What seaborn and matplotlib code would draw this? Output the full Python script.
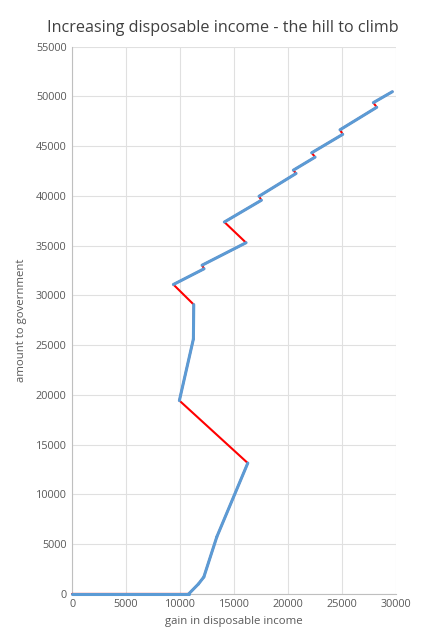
import matplotlib
matplotlib.use("Agg")
import matplotlib.pyplot as plt
import seaborn as sns
import pandas as pd
import numpy as np

# data
gain_income = [0, 10800, 11700, 12200, 13400, 16270, 9935, 11234, 11265, 9380,
               12220, 12037, 16110, 14100, 17530, 17310, 20740, 20490, 22500,
               22190, 25060, 24810, 28210, 27900, 29660]
amount_gov = [0, 0, 1000, 1700, 5730, 13150, 19435, 25625, 29080, 31100,
              32680, 33040, 35300, 37380, 39570, 39970, 42260, 42590, 43900,
              44340, 46190, 46650, 48910, 49380, 50480]

title = "Increasing disposable income - the hill to climb"
x_label = "gain in disposable income"
y_label = "amount to government"
x_ticks = [0, 5000, 10000, 15000, 20000, 25000, 30000]
y_ticks = [0, 5000, 10000, 15000, 20000, 25000, 30000, 35000, 40000, 45000, 50000, 55000]

sns.set_theme(style="white")
plt.rcParams['font.family'] = ['Open Sans', 'DejaVu Sans']

df = pd.DataFrame({"x": gain_income, "y": amount_gov})

# blue segments: runs where x does not decrease
rows = []
for i in range(len(gain_income) - 1):
    if gain_income[i + 1] >= gain_income[i]:
        rows.append({"x": gain_income[i], "y": amount_gov[i], "seg": i})
        rows.append({"x": gain_income[i + 1], "y": amount_gov[i + 1], "seg": i})
blue = pd.DataFrame(rows)

fig = plt.figure(figsize=(4.45, 6.4), dpi=100)
ax = fig.add_axes([0.162, 0.072, 0.728, 0.855])

sns.lineplot(data=df, x="x", y="y", sort=False, estimator=None,
             color="#FF0000", linewidth=1.5, ax=ax, clip_on=False, zorder=3)
sns.lineplot(data=blue, x="x", y="y", units="seg", sort=False, estimator=None,
             color="#5B9BD5", linewidth=2.2, ax=ax, clip_on=False, zorder=4,
             solid_capstyle="round", solid_joinstyle="round")

ax.set_xlim(0, 30000)
ax.set_ylim(0, 55000)
ax.set_xticks(x_ticks)
ax.set_yticks(y_ticks)
ax.grid(True, color="#E0E0E0", linewidth=0.8)
ax.set_axisbelow(True)
for s in ["top", "right"]:
    ax.spines[s].set_visible(False)
for s in ["left", "bottom"]:
    ax.spines[s].set_color("#BFBFBF")
    ax.spines[s].set_linewidth(0.8)
ax.tick_params(axis="both", labelsize=7.8, colors="#595959", length=0, pad=4)
ax.set_xlabel(x_label, fontsize=8.2, color="#595959", labelpad=4)
ax.set_ylabel(y_label, fontsize=8.2, color="#595959", labelpad=6)
fig.suptitle(title, fontsize=11.6, color="#404040", y=0.968)

fig.savefig("out.png", dpi=100)
